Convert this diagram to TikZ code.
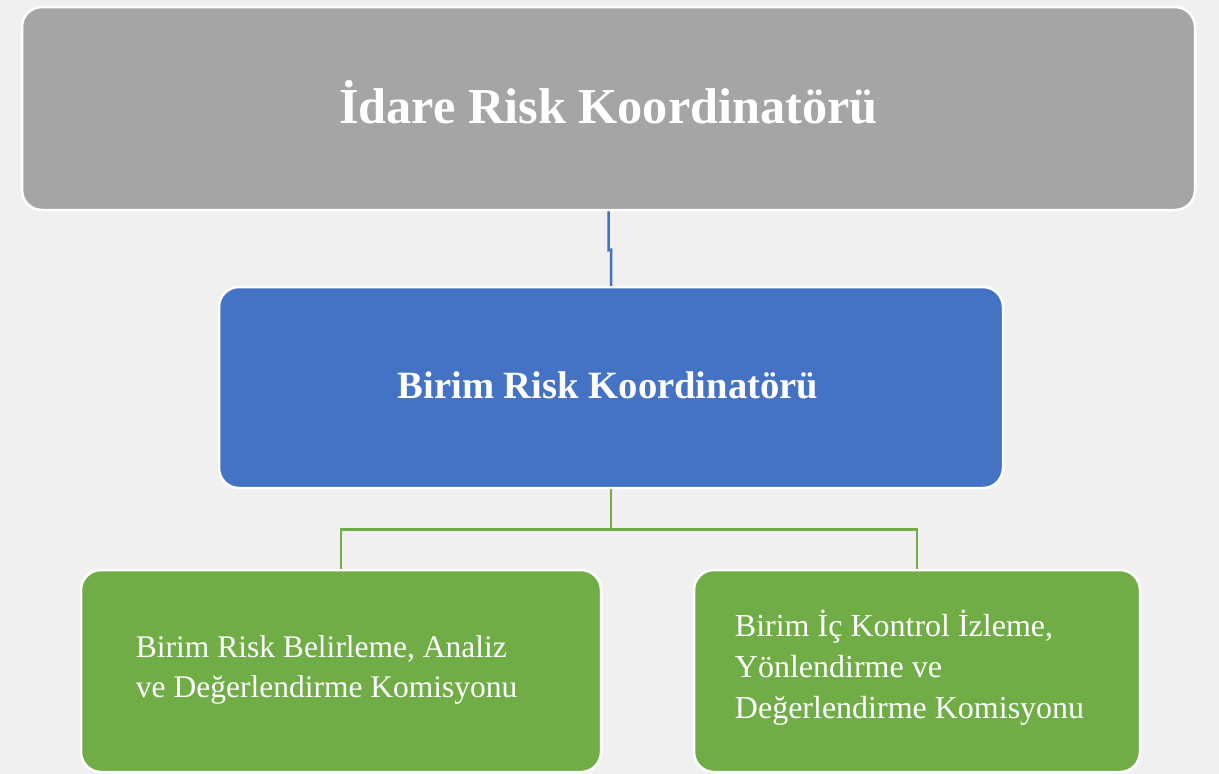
\documentclass[tikz,border=0pt]{standalone}
\usepackage{fontspec}
\setmainfont{Liberation Serif}
\definecolor{bgc}{HTML}{F0F0F0}
\definecolor{grayc}{HTML}{A5A5A5}
\definecolor{bluec}{HTML}{4472C4}
\definecolor{greenc}{HTML}{70AD47}
\tikzset{
  box/.style={draw=white, line width=2.5pt, rounded corners=20pt, inner sep=0pt},
  txt/.style={text=white, inner sep=0pt},
  con/.style={line width=2.5pt}
}
\begin{document}
\begin{tikzpicture}[x=1pt,y=1pt]
\fill[bgc] (0,0) rectangle (1219,-774);
\useasboundingbox (0,0) rectangle (1219,-774);
\node[box, fill=grayc, minimum width=1173pt, minimum height=203pt] (top) at (608.5,-108.5) {};
\node[txt, font=\bfseries\fontsize{50.3}{58}\selectfont] (toptxt) at ([yshift=6pt]top.center) {İdare Risk Koordinatörü};
\node[box, fill=bluec, minimum width=784pt, minimum height=201pt] (mid) at (611,-387.5) {};
\node[txt, font=\bfseries\fontsize{38.6}{44}\selectfont] (midtxt) at ([xshift=-3pt,yshift=2pt]mid.center) {Birim Risk Koordinatörü};
\node[box, fill=greenc, minimum width=520pt, minimum height=202pt] (left) at (341,-671) {};
\node[box, fill=greenc, minimum width=446pt, minimum height=202pt] (right) at (917,-671) {};
\node[txt, anchor=west, align=left, font=\fontsize{31.5}{40}\selectfont] (lefttxt) at ([xshift=56pt,yshift=1pt]left.west) {Birim Risk Belirleme, Analiz\\ve Değerlendirme Komisyonu};
\node[txt, anchor=west, align=left, font=\fontsize{32}{41}\selectfont] (righttxt) at ([xshift=42pt,yshift=3pt]right.west) {Birim İç Kontrol İzleme,\\Yönlendirme ve\\Değerlendirme Komisyonu};
\draw[con, bluec] (top.south) -- ++(0,-39pt) -- ([yshift=36pt]mid.north) -- (mid.north);
\draw[con, greenc] (mid.south) -- ++(0,-40pt) -| (left.north);
\draw[con, greenc] (mid.south) -- ++(0,-40pt) -| (right.north);
\end{tikzpicture}
\end{document}
